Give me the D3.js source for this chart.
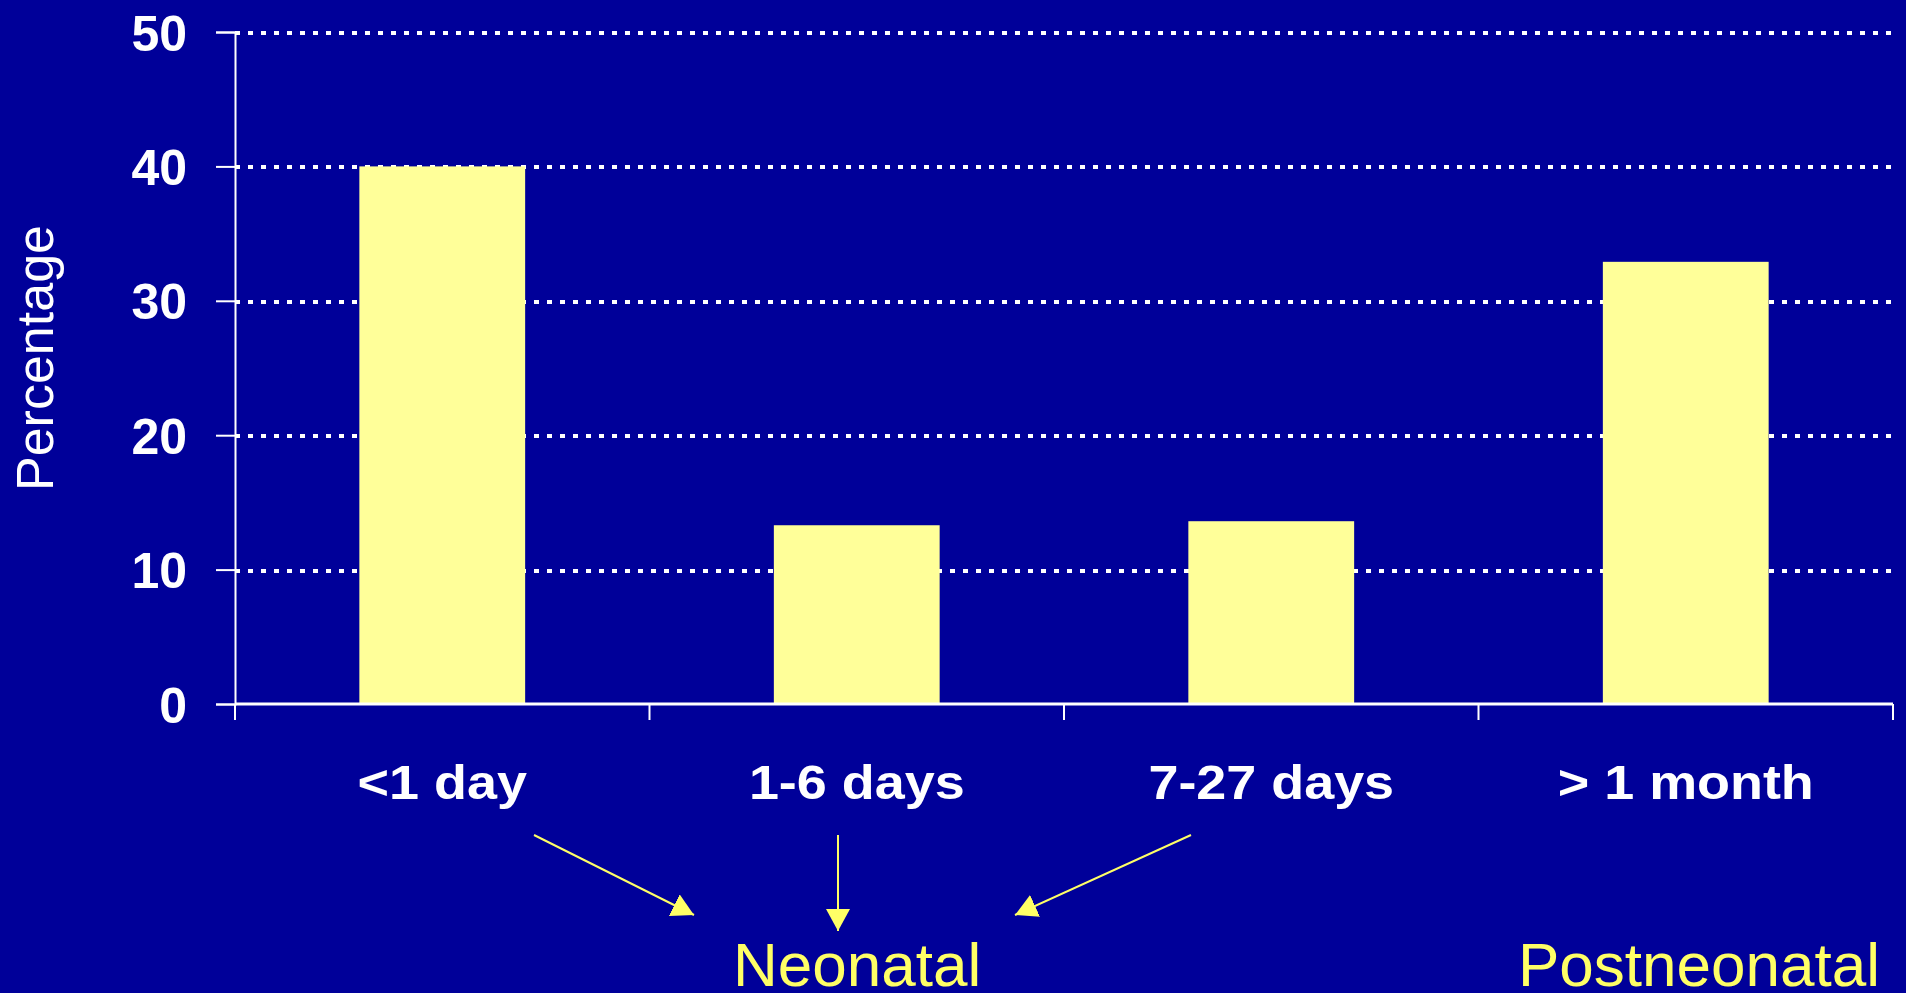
<!DOCTYPE html>
<html>
<head>
<meta charset="utf-8">
<script src="https://cdn.jsdelivr.net/npm/d3@7"></script>
<style>
    html, body { margin:0; padding:0; background:#000099; overflow:hidden; }
    text { font-family: Arial, "Liberation Sans", sans-serif; }
</style>
</head>
<body>
<div id="chart-area"></div>
<script>
/*
    Age at death bar chart
    neonatal vs postneonatal
*/

// data
var categories = ["<1 day", "1-6 days", "7-27 days", "> 1 month"];
var percentages = [40, 13.3, 13.6, 32.9];
var yTicks = [0, 10, 20, 30, 40, 50];
var groupLabels = ["Neonatal", "Postneonatal"];

var margin = { left:235, right:13, top:32, bottom:289 };
var width = 1906 - margin.left - margin.right,
    height = 993 - margin.top - margin.bottom;

var svg = d3.select("#chart-area")
    .append("svg")
    .attr("width", 1906)
    .attr("height", 993);

svg.append("rect")
    .attr("width", 1906)
    .attr("height", 993)
    .attr("fill", "#000099");

var g = svg.append("g")
    .attr("transform", "translate(" + margin.left + ", " + margin.top + ")");

// Scales
var x = d3.scaleBand()
    .domain(categories)
    .range([0, width])
    .paddingInner(0.6)
    .paddingOuter(0.3);

var y = d3.scaleLinear()
    .domain([0, 50])
    .range([height, 0]);

// dotted gridlines
g.selectAll(".grid")
    .data(yTicks.filter(function(d){ return d > 0; }))
    .enter().append("line")
    .attr("class", "grid")
    .attr("x1", 0)
    .attr("x2", width)
    .attr("y1", function(d){ return Math.round(y(d)) + 0.5; })
    .attr("y2", function(d){ return Math.round(y(d)) + 0.5; })
    .attr("stroke", "#ffffff")
    .attr("stroke-width", 4)
    .attr("stroke-dasharray", "5,8")
    .attr("shape-rendering", "crispEdges");

// Bars
g.selectAll(".bar")
    .data(percentages)
    .enter().append("rect")
    .attr("class", "bar")
    .attr("x", function(d, i){ return x(categories[i]); })
    .attr("y", function(d){ return y(d); })
    .attr("width", x.bandwidth())
    .attr("height", function(d){ return height - y(d); })
    .attr("fill", "#ffff99");

// Y Axis
var yAxis = g.append("g")
    .call(d3.axisLeft(y).tickValues(yTicks).tickSize(19).tickPadding(29));

yAxis.select(".domain").attr("stroke", "#ffffff").attr("stroke-width", 2);
yAxis.selectAll(".tick line").attr("stroke", "#ffffff").attr("stroke-width", 2);
yAxis.selectAll(".tick text")
    .attr("fill", "#ffffff")
    .attr("font-size", "50px")
    .attr("font-weight", "bold")
    .attr("dy", "0.36em");

// X Axis, ticks sit on the category boundaries
var step = x.step();
var boundaries = categories.map(function(c){ return x(c) + x.bandwidth() / 2 - step / 2; });
boundaries.push(x(categories[categories.length - 1]) + x.bandwidth() / 2 + step / 2);

g.append("line")
    .attr("x1", 0)
    .attr("x2", width)
    .attr("y1", height)
    .attr("y2", height)
    .attr("stroke", "#ffffff")
    .attr("stroke-width", 3);

g.selectAll(".xtick")
    .data(boundaries)
    .enter().append("line")
    .attr("class", "xtick")
    .attr("x1", function(d){ return d; })
    .attr("x2", function(d){ return d; })
    .attr("y1", height)
    .attr("y2", height + 16)
    .attr("stroke", "#ffffff")
    .attr("stroke-width", 2);

// Category labels (slightly wide, as on the slide)
g.selectAll(".xlabel")
    .data(categories)
    .enter().append("text")
    .attr("class", "xlabel")
    .attr("transform", function(d){
        return "translate(" + (x(d) + x.bandwidth() / 2) + "," + (height + 95) + ") scale(1.1,1)";
    })
    .attr("text-anchor", "middle")
    .attr("font-size", "49px")
    .attr("font-weight", "bold")
    .attr("fill", "#ffffff")
    .text(function(d){ return d; });

// Y Label
svg.append("text")
    .attr("transform", "translate(53,358) rotate(-90)")
    .attr("text-anchor", "middle")
    .attr("font-size", "52px")
    .attr("fill", "#ffffff")
    .text("Percentage");

// Group labels
svg.append("text")
    .attr("x", 733)
    .attr("y", 986)
    .attr("font-size", "62px")
    .attr("fill", "#ffff66")
    .text(groupLabels[0]);

svg.append("text")
    .attr("x", 1518)
    .attr("y", 986)
    .attr("font-size", "62px")
    .attr("fill", "#ffff66")
    .text(groupLabels[1]);

// arrows from the neonatal categories to the label
svg.append("defs").append("marker")
    .attr("id", "arrowhead")
    .attr("viewBox", "0 0 22 24")
    .attr("refX", 22)
    .attr("refY", 12)
    .attr("markerWidth", 22)
    .attr("markerHeight", 24)
    .attr("markerUnits", "userSpaceOnUse")
    .attr("orient", "auto")
    .append("path")
    .attr("d", "M 0 0 L 22 12 L 0 24 Z")
    .attr("fill", "#ffff66");

var arrows = [
    { x1: 534, y1: 835, x2: 694, y2: 915 },
    { x1: 838, y1: 835, x2: 838, y2: 931 },
    { x1: 1191, y1: 835, x2: 1015, y2: 915 }
];

svg.selectAll(".arrow")
    .data(arrows)
    .enter().append("line")
    .attr("class", "arrow")
    .attr("x1", function(d){ return d.x1; })
    .attr("y1", function(d){ return d.y1; })
    .attr("x2", function(d){ return d.x2; })
    .attr("y2", function(d){ return d.y2; })
    .attr("stroke", "#ffff66")
    .attr("stroke-width", 2)
    .attr("marker-end", "url(#arrowhead)");
</script>
</body>
</html>
